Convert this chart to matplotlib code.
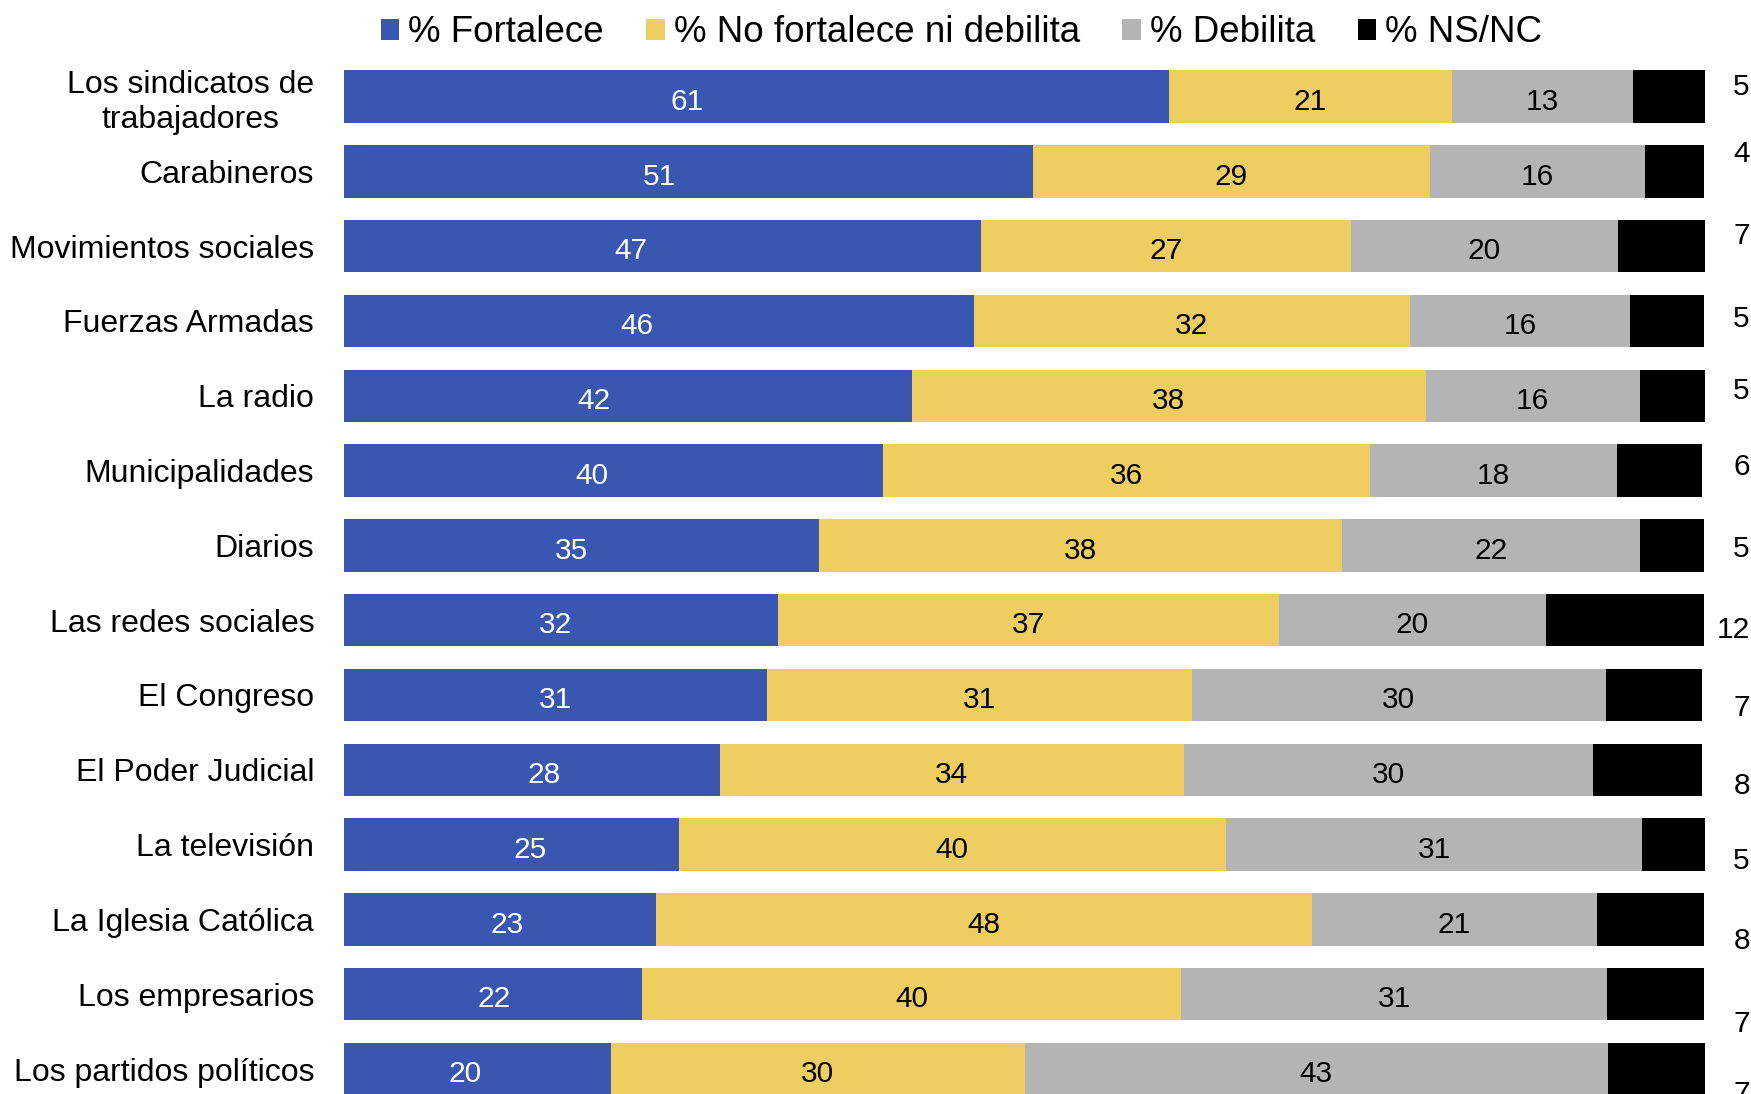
import numpy as np
import matplotlib
matplotlib.use("Agg")
import matplotlib.pyplot as plt

plt.rcParams['font.family'] = ['Liberation Sans', 'DejaVu Sans']

categories = ["Los sindicatos de\ntrabajadores", "Carabineros", "Movimientos sociales",
              "Fuerzas Armadas", "La radio", "Municipalidades", "Diarios",
              "Las redes sociales", "El Congreso", "El Poder Judicial", "La televisión",
              "La Iglesia Católica", "Los empresarios", "Los partidos políticos"]
fortalece = [60.6, 50.6, 46.8, 46.3, 41.7, 39.6, 34.9, 31.9, 31.1, 27.6, 24.6, 22.9, 21.9, 19.6]
ni_ni     = [20.8, 29.2, 27.2, 32.0, 37.8, 35.8, 38.4, 36.8, 31.2, 34.1, 40.2, 48.2, 39.6, 30.4]
debilita  = [13.3, 15.8, 19.6, 16.2, 15.7, 18.1, 21.9, 19.6, 30.4, 30.1, 30.6, 21.0, 31.3, 42.9]
nsnc      = [5.4, 4.3, 6.6, 5.4, 4.8, 6.3, 4.7, 11.6, 7.1, 8.0, 4.8, 7.8, 7.1, 7.1]
series_names = ["% Fortalece", "% No fortalece ni debilita", "% Debilita", "% NS/NC"]
colors = ["#3956B1", "#EFCE61", "#B4B4B4", "#000000"]
text_colors = ["white", "black", "black", None]

# label placement tweaks (as in the original layout)
blue_dx = [-5.1, -2.1, -2.3, -1.6, -2.5, -1.6, -0.7, -0.4, 0.0, 0.9, 1.4, 0.5, 0.1, -0.9]
nsnc_dy = [-0.13, -0.23, -0.13, -0.02, -0.07, -0.05, 0.05, 0.13, 0.17, 0.22, 0.22, 0.29, 0.40, 0.34]

fig = plt.figure(figsize=(17.51, 10.94), dpi=100)
ax = fig.add_axes([344/1751, 0, 1361/1751, 1])

y = np.arange(len(categories))
data = [fortalece, ni_ni, debilita, nsnc]
left = np.zeros(len(categories))
handles = []
for i, (vals, name, col, tc) in enumerate(zip(data, series_names, colors, text_colors)):
    vals = np.array(vals)
    b = ax.barh(y, vals, left=left, height=0.7, color=col, label=name)
    handles.append(b)
    if tc is not None:
        for yi, l, v in zip(y, left, vals):
            dx = blue_dx[yi] if i == 0 else 0
            ax.text(l + v/2 + dx, yi + 0.07, f"{v:.0f}", ha='center', va='center',
                    color=tc, fontsize=21.5)
    left += vals

# NS/NC values written outside the bar
for yi, v in zip(y, nsnc):
    ax.text(103.3, yi + nsnc_dy[yi], f"{v:.0f}", ha='right', va='center',
            fontsize=21.5, color='black', clip_on=False)

ax.set_xlim(0, 100)
ax.set_ylim(13.334, -1.291)
ax.set_yticks(y)
ax.set_yticklabels(categories, fontsize=23, multialignment='center')
ax.tick_params(axis='y', length=0, pad=21.5)
ax.set_xticks([])
for s in ax.spines.values():
    s.set_visible(False)

fig.legend(handles=handles, labels=series_names, loc='center',
           bbox_to_anchor=(961.5/1751, 1 - 33/1094), ncol=4, frameon=False,
           fontsize=26.5, handlelength=0.5, handleheight=0.5,
           handletextpad=0.25, columnspacing=1.15, borderaxespad=0)

fig.savefig("out.png", dpi=100)
